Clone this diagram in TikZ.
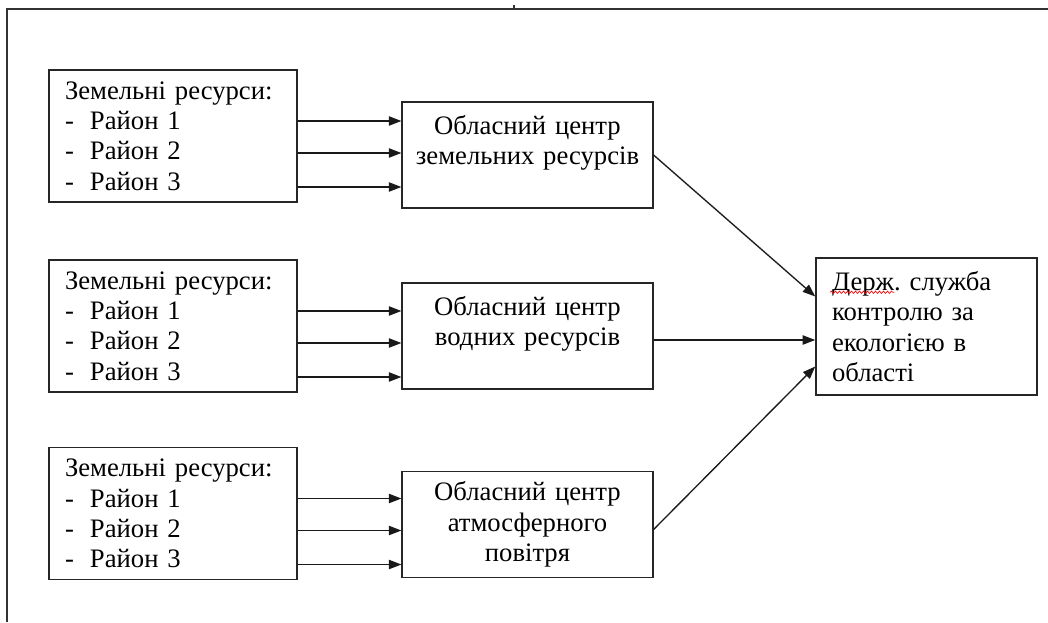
\documentclass[tikz,border=0pt]{standalone}
\usepackage{fontspec}
\setmainfont{Liberation Serif}
\usepackage{tikz}
\usetikzlibrary{arrows.meta,calc,decorations.pathmorphing}
\frenchspacing

\begin{document}
\begin{tikzpicture}[
   x=0.75pt,y=-0.75pt,
   >={Triangle[length=9.5pt,width=7pt]},
   box/.style={draw=black!85,line width=1.1pt,inner ysep=0pt,inner xsep=12pt,
               font=\rmfamily\fontsize{20}{22.7}\selectfont},
   src/.style={box,align=left,text width=162pt,minimum height=99pt},
   ctr/.style={box,align=center,inner xsep=3pt,text width=182pt,minimum height=79.5pt},
   dst/.style={box,align=left,text width=141.75pt,minimum height=102.75pt},
   dep/.style={->,line width=1pt,black!90},
   frame/.style={draw=black!80,line width=0.9pt},
   spell/.style={red,line width=0.5pt,decorate,
                 decoration={snake,amplitude=0.9pt,segment length=3pt}}
  ]
  \useasboundingbox (0,0) rectangle (1048,622);

  % page frame
  \draw[frame] (1048,9) -- (7,9) -- (7,622);
  \draw[frame] (514,5) -- (514,9);

  \newcommand{\rayon}[1]{\makebox[18.75pt][l]{-}Район~#1}

  \node[src] (land1) at (173,136)   {Земельні ресурси:\\\rayon{1}\\\rayon{2}\\\rayon{3}};
  \node[src] (land2) at (173,326)   {Земельні ресурси:\\\rayon{1}\\\rayon{2}\\\rayon{3}};
  \node[src] (land3) at (173,513.5) {Земельні ресурси:\\\rayon{1}\\\rayon{2}\\\rayon{3}};

  \node[ctr] (soil)  at (527.5,155)   {Обласний центр\\земельних ресурсів\\~};
  \node[ctr] (water) at (527.5,336)   {Обласний центр\\водних ресурсів\\~};
  \node[ctr] (air)   at (527.5,524.5) {Обласний центр\\атмосферного\\повітря};

  \node[dst] (state) at (926.5,326.5) {Держ. служба\\контролю за\\екологією в\\області};
  \draw[spell] ($(state.north west)+(15,35)$) -- ++(64,0);

  \foreach \src/\ctr in {land1/soil,land2/water,land3/air}
    \foreach \dy in {-15,17,51} {
      \path ($(\src.east)+(0,\dy)$) coordinate (s);
      \draw[dep] (s) -- (s -| \ctr.west);
    }

  \path ($(water.east)+(0,4)$) coordinate (w);
  \draw[dep] (soil.east) -- ($(state.west)+(0,-30)$);
  \draw[dep] (w) -- (w -| state.west);
  \draw[dep] ($(air.east)+(0,5)$) -- ($(state.west)+(0,40)$);
\end{tikzpicture}
\end{document}
